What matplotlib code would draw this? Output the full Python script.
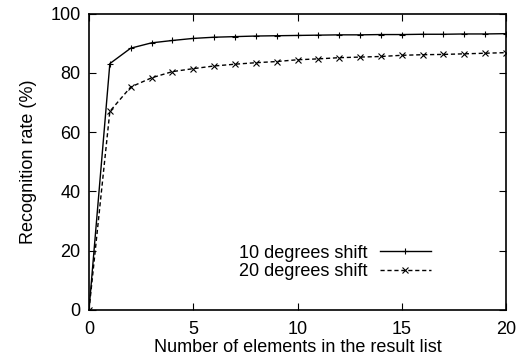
import matplotlib
matplotlib.use("Agg")
import matplotlib.pyplot as plt

x = list(range(0, 21))
shift10 = [0, 83.1, 88.3, 90.1, 90.9, 91.6, 92.0, 92.2, 92.4, 92.5, 92.6,
           92.7, 92.8, 92.8, 92.9, 92.9, 93.0, 93.0, 93.1, 93.1, 93.2]
shift20 = [0, 67.0, 75.2, 78.3, 80.4, 81.4, 82.3, 82.9, 83.4, 83.8, 84.4,
           84.7, 85.1, 85.3, 85.5, 85.9, 86.1, 86.2, 86.4, 86.6, 86.8]
labels = ["10 degrees shift", "20 degrees shift"]

plt.rcParams['font.family'] = ['Liberation Sans', 'DejaVu Sans']

fig = plt.figure(figsize=(5.17, 3.59), dpi=100)
ax = fig.add_axes([89/517, 1 - 310/359, (506-89)/517, (310-13.5)/359])

ax.plot(x, shift10, color='black', lw=1.0, marker='+', ms=5, mew=0.8, label=labels[0])
ax.plot(x, shift20, color='black', lw=1.0, ls=(0, (3, 2)), marker='x', ms=4, mew=0.8, label=labels[1])

ax.set_xlim(0, 20)
ax.set_ylim(0, 100)
ax.set_xticks([0, 5, 10, 15, 20])
ax.set_yticks([0, 20, 40, 60, 80, 100])
ax.tick_params(direction='in', length=5, width=0.8, top=True, right=True,
               labelsize=13, pad=6)
ax.tick_params(axis='x', pad=8)
for s in ax.spines.values():
    s.set_linewidth(1.2)

ax.set_xlabel("Number of elements in the result list", fontsize=13, labelpad=0.5)
ax.set_ylabel("Recognition rate (%)", fontsize=13, labelpad=10)

leg = ax.legend(loc='lower right', bbox_to_anchor=(0.858, 0.045), frameon=False,
                markerfirst=False, numpoints=1, handlelength=2.8,
                fontsize=13, labelspacing=0.1, handletextpad=0.7)

fig.savefig("out.png", dpi=100)
